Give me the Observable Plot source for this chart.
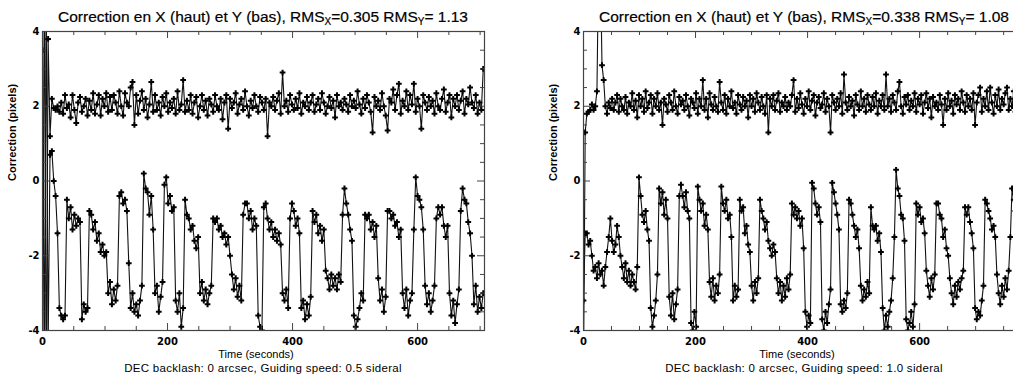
<!DOCTYPE html>
<html><head><meta charset="utf-8">
<script src="https://cdn.jsdelivr.net/npm/d3@7"></script>
<script src="https://cdn.jsdelivr.net/npm/@observablehq/plot@0.6"></script>
<style>
html,body{margin:0;padding:0;background:#fff;overflow:hidden;width:1013px;height:378px}
#wrap{position:relative;width:1100px;height:378px}
.panel{position:absolute;top:0;width:506px;height:378px}
.panel svg{position:absolute;left:0;top:0}
.title{position:absolute;top:8px;left:-20px;width:566px;text-align:center;font:15.5px "Liberation Sans",Arial,sans-serif;color:#000;white-space:nowrap;-webkit-text-stroke:0.2px #000}
.title sub{font-size:10px;vertical-align:-3px;line-height:0}
.xlab{position:absolute;top:348px;left:35px;width:442px;text-align:center;font:11px "Liberation Sans",Arial,sans-serif;color:#000;white-space:nowrap}
.cap{position:absolute;top:362px;left:-20px;width:566px;text-align:center;font:11.5px "Liberation Sans",Arial,sans-serif;letter-spacing:0.3px;color:#000;white-space:nowrap}
</style></head><body>
<div id="wrap"></div>
<script>
// sampling step of the guiding corrections (seconds)
const dt = 3;
const yDomain = [-4, 4];
const xMajorTicks = [0, 200, 400, 600];
const xMinorTicksLeft = [50,100,150,250,300,350,450,500,550,650,700];
const xMinorTicksRight = [50,100,150,250,300,350,450,500,550,650,700,750];
const yMajorTicks = [-4, -2, 0, 2, 4];
const yMinorTicks = [-3.5,-3,-2.5,-1.5,-1,-0.5,0.5,1,1.5,2.5,3,3.5];
const leftXMax = 707;
const rightXMax = 789;
const yLabel = "Correction (pixels)";

const leftTitle = {rmsX: "0.305", rmsY: " 1.13"};
const rightTitle = {rmsX: "0.338", rmsY: " 1.08"};
const leftCaption = "DEC backlash: 0 arcsec, Guiding speed: 0.5 sideral";
const rightCaption = "DEC backlash: 0 arcsec, Guiding speed: 1.0 sideral";

// Left panel, X correction (top series)
const leftX = [
-6,6,-6,3.8,1.2,2.2,1.95,1.9,2.0,1.85,
2.1,1.8,2.3,1.95,2.05,1.7,2.3,1.9,1.55,2.1,
2.25,1.85,2.0,2.2,1.75,2.15,1.9,2.35,1.8,2.05,
2.3,1.75,2.2,2.0,2.35,1.85,2.25,1.9,2.3,2.1,
1.8,2.4,2.0,1.75,2.35,2.1,2.0,2.5,2.65,1.5,
2.3,1.8,2.15,2.4,1.9,2.2,1.7,2.05,2.65,1.85,
2.3,1.9,2.1,1.75,2.25,2.0,2.35,1.85,2.1,1.95,
2.2,1.8,2.4,1.9,2.05,2.7,1.85,2.15,1.9,2.3,
1.8,2.1,2.25,1.7,2.0,2.3,1.9,2.15,1.75,2.2,
2.05,1.85,2.3,2.0,1.9,2.2,1.65,2.1,2.3,1.4,
2.2,1.95,2.1,2.35,1.8,2.05,2.2,1.9,2.4,2.0,
1.75,2.15,1.95,2.3,2.0,1.85,2.25,2.1,1.9,2.2,
1.2,2.1,2.0,2.25,1.9,2.15,2.35,1.8,2.9,2.0,
2.15,1.85,2.3,2.05,1.9,2.2,1.95,2.35,1.8,2.1,
2.0,2.25,1.9,2.1,2.3,1.85,2.05,2.2,1.9,2.35,
2.1,1.8,2.0,2.25,1.95,2.15,1.7,2.3,2.0,2.1,
1.9,2.2,2.05,1.85,2.3,2.0,2.15,1.95,2.4,2.05,
1.8,2.2,1.95,2.3,2.1,1.85,1.3,2.25,2.0,2.15,
1.9,2.35,2.0,1.75,1.35,2.2,2.1,2.45,1.9,2.3,
2.6,1.8,2.15,2.0,2.4,1.9,2.3,2.05,2.6,1.85,
2.2,2.0,1.4,2.3,2.1,1.9,2.25,2.0,2.15,1.8,
2.35,2.0,1.9,2.2,2.45,1.85,2.1,2.3,1.7,2.2,
2.0,2.3,1.9,2.15,2.4,1.8,2.2,2.05,2.5,2.1,
1.95,2.3,1.8,2.1,1.9,3.0
];

// Left panel, Y correction (bottom series)
const leftY = [
3.5,-5,5,-4.5,0.7,0.8,0.0,-0.4,-1.4,-3.4,-3.6,-3.7,-3.6,
-0.5,-1.0,-0.7,-1.3,-0.9,-1.2,-1.0,-1.1,-3.7,-3.3,-3.5,-3.4,
-0.8,-0.9,-1.3,-1.1,-1.6,-1.4,-1.9,-1.7,-2.0,-1.9,-3.0,-2.7,-3.3,-2.9,-3.2,-2.8,
-0.4,-0.3,-0.6,-0.5,-0.8,-2.2,-3.4,-3.0,-3.5,-3.3,-3.6,-3.2,-2.8,
0.2,-0.2,-0.3,-0.9,-0.4,-1.3,-3.0,-2.8,-3.5,-3.1,-2.7,
-0.1,0.1,-0.6,-0.4,-0.8,-0.7,-3.2,-3.5,-3.0,-3.9,-3.4,
-0.5,-0.9,-1.0,-1.3,-1.2,-1.6,-1.8,-1.5,-3.0,-2.7,-3.2,-2.9,-3.3,-3.0,-2.8,
-1.0,-1.1,-1.0,-1.3,-1.2,-1.5,-1.4,-1.7,-1.5,-2.0,-2.5,-2.9,-2.6,-3.1,-2.8,-3.2,
-0.9,-0.6,-0.6,-1.0,-0.8,-1.3,-1.0,-1.2,-3.6,-3.9,-4.0,
-0.7,-0.6,-1.0,-1.3,-1.1,-1.5,-1.3,-1.6,-1.4,-1.7,-3.0,-3.2,-2.9,-3.4,
-1.0,-0.6,-0.8,-1.2,-1.0,-1.4,-3.4,-3.2,-3.7,-3.3,-3.6,-3.1,
-0.8,-1.1,-0.9,-1.4,-1.2,-1.6,-1.3,-2.4,-2.6,-2.9,-2.5,-2.8,-2.6,-2.9,-2.5,-2.7,
-0.9,-0.2,-0.6,-0.9,-1.3,-1.6,-3.6,-3.9,-3.7,-3.4,-3.0,-3.2,
-0.9,-1.0,-0.9,-1.3,-1.1,-1.5,-1.2,-2.6,-3.2,-2.9,-3.5,-3.1,
-0.8,-0.8,-1.0,-0.9,-1.2,-1.1,-1.5,-1.3,-3.0,-3.4,-2.9,-3.6,-3.2,-3.0,
-1.3,0.1,-0.4,-0.5,-0.7,-1.3,-2.8,-3.3,-3.0,-3.5,-3.2,-2.8,
-1.0,-0.7,-0.9,-0.7,-1.2,-1.5,-1.2,-3.0,-3.6,-3.2,-3.8,-3.3,-2.9,
-0.8,-0.2,-0.5,-0.6,-1.1,-1.4,-2.0,-3.3,-2.8,-3.5,-3.1,-3.4,-3.0
];

// Right panel, X correction (top series)
const rightX = [
-5,1.3,1.8,1.85,1.9,2.05,1.9,2.0,2.4,6,
6,3.1,2.7,2.0,1.8,2.1,1.95,2.2,1.9,2.1,
2.3,1.85,2.2,2.0,1.9,2.25,1.8,2.1,2.0,2.35,
1.9,2.15,1.7,2.3,2.0,2.2,1.85,2.4,1.95,2.1,
2.3,1.8,2.2,2.0,2.35,1.9,2.1,1.5,2.2,2.05,
1.85,2.3,2.1,1.9,2.4,2.0,1.8,2.25,2.05,2.15,
1.9,2.3,2.0,1.75,2.2,2.1,1.95,2.35,1.8,2.2,
2.0,2.7,1.9,2.2,1.7,2.35,2.05,1.9,2.25,2.0,
1.85,2.65,2.1,1.9,2.3,1.8,2.2,2.0,2.4,1.95,
2.1,1.8,2.3,2.05,1.9,2.25,2.0,2.15,1.7,2.3,
2.0,2.2,1.85,2.35,2.1,1.9,2.25,2.0,1.8,2.3,
1.3,2.2,2.0,2.3,1.9,2.15,2.35,1.85,2.1,2.0,
2.25,1.9,2.1,2.0,2.3,2.7,1.85,2.2,1.95,2.35,
2.05,1.8,2.2,2.0,2.4,1.9,2.15,2.3,1.75,2.1,
2.25,1.95,2.05,2.35,1.85,2.2,2.0,1.3,2.3,2.1,
1.9,2.2,2.0,2.35,1.8,2.85,2.1,1.9,2.25,2.0,
2.15,1.75,2.3,2.05,1.9,2.4,2.0,2.2,1.85,2.3,
2.05,1.9,2.25,2.0,2.35,1.8,2.15,2.0,2.3,1.9,
2.85,2.0,2.2,1.85,2.3,2.1,1.9,2.4,2.65,2.0,
1.8,2.25,2.05,2.3,1.9,2.15,2.0,2.35,1.85,2.2,
2.05,2.3,1.8,2.1,2.35,1.95,2.2,1.7,2.25,2.0,
2.1,1.9,2.3,2.05,1.5,2.2,1.9,2.35,2.0,2.15,
1.8,2.3,2.05,2.2,1.9,2.4,2.1,1.85,2.3,2.0,
2.2,1.9,2.35,1.5,2.1,2.3,2.5,1.85,2.2,2.0,
2.4,1.9,2.5,2.1,1.8,2.3,2.0,2.45,1.9,2.2,
2.05,2.35,2.5,1.9,2.2,2.0,2.4,1.85,2.3,2.1,
1.9,2.3,2.0,2.2
];

// Right panel, Y correction (bottom series)
const rightY = [
-3.2,-1.4,-1.4,-1.7,-1.6,-2.0,-2.4,-2.3,-2.6,-2.2,-2.5,-2.4,-2.8,-2.3,-1.9,-1.5,-1.0,-1.6,-1.9,-1.7,-1.2,-1.5,-2.0,-2.3,-2.6,-2.2,-2.7,-2.4,-2.8,-2.5,-2.7,-2.9,-2.3,
0.1,-0.4,-0.9,-1.1,-0.8,-1.3,-1.6,-3.4,-3.9,-3.6,-3.2,-2.5,
-0.2,-0.6,-0.3,-0.9,-0.5,-1.0,-3.1,-3.6,-3.0,-3.7,-3.3,-2.9,
-0.4,-0.1,-0.4,-0.7,-0.3,-0.8,-1.0,-3.8,-4.0,-3.5,-3.9,
-0.15,-0.5,-0.8,-0.6,-1.2,-0.9,-1.3,-2.7,-3.1,-2.6,-3.2,-2.8,-3.0,-2.5,
-0.15,-0.6,-0.8,-0.5,-1.0,-0.9,-1.5,-3.2,-2.8,-3.1,-2.9,
-0.5,-0.8,-0.7,-1.4,-1.2,-1.7,-1.9,-2.8,-3.2,-2.7,-3.0,-2.6,
-0.5,-0.8,-1.0,-1.3,-1.1,-1.6,-1.8,-2.0,-1.7,-1.9,-2.6,-3.0,-2.7,-3.2,-2.8,-3.1,-2.6,-2.9,-2.5,
-0.6,-0.9,-0.7,-1.0,-0.8,-1.2,-1.0,-1.8,-3.5,-3.9,-3.6,-3.8,
-0.05,-0.2,-0.6,-0.9,-0.7,-1.1,-3.7,-4.0,-3.5,-3.8,-3.3,-2.9,
-0.05,-0.3,-0.6,-0.9,-1.3,-3.3,-3.5,-3.2,-3.4,-3.0,
-0.5,-0.6,-0.9,-1.2,-1.5,-1.3,-1.8,-2.8,-3.2,-2.9,-3.1,-2.7,-3.0,
-0.7,-1.2,-1.3,-1.2,-1.6,-1.4,-1.9,-3.4,-4.0,-3.6,-3.9,-3.5,-3.2,-2.6,
-1.5,0.3,-0.2,-0.4,-0.9,-1.0,-1.6,-3.7,-4.0,-3.8,-3.5,-3.9,-3.3,
-0.6,-0.9,-0.7,-1.1,-1.0,-1.4,-2.4,-2.8,-3.1,-2.6,-2.9,-2.5,
-0.6,-0.6,-0.9,-1.0,-1.5,-1.3,-1.8,-2.0,-2.6,-3.0,-3.3,-2.8,-3.1,-2.7,-2.9,-2.6,-2.4,
-0.7,-0.9,-0.7,-1.1,-1.4,-1.8,-3.4,-3.7,-3.5,-3.6,-3.2,-2.8,
-0.5,-0.6,-0.8,-1.0,-1.3,-1.2,-1.5,-2.5,-3.0,-3.3,-2.8,-3.1,-2.6,-2.9,-2.4,-1.5,
-0.2,-0.5,-0.8,-0.6,-1.0,-1.3,-2.2,-3.0,-2.7
];

function series(vals) { return vals.map((v, i) => ({t: i * dt, v})); }

function makePanel(xVals, yVals, xMax, xMinor) {
  const W = 506, H = 378, mL = 42, mR = 22, mT = 31, mB = 48;
  const pw = W - mL - mR, ph = H - mT - mB;
  const sx = series(xVals), sy = series(yVals);
  const ink = "#111", axisInk = "#444";
  const dotOpts = {x: "t", y: "v", symbol: "plus", r: 2, stroke: "#000", strokeWidth: 2, clip: true};
  return Plot.plot({
    width: W, height: H,
    marginLeft: mL, marginRight: mR, marginTop: mT, marginBottom: mB,
    x: {domain: [0, xMax]},
    y: {domain: yDomain},
    style: {fontFamily: '"DejaVu Sans", sans-serif', fontSize: "10px", fontWeight: "bold", color: "#000", background: "transparent"},
    marks: [
      Plot.line(sy, {x: "t", y: "v", stroke: ink, strokeWidth: 1.1, clip: true}),
      Plot.dot(sy, dotOpts),
      Plot.line(sx, {x: "t", y: "v", stroke: ink, strokeWidth: 1.1, clip: true}),
      Plot.dot(sx, dotOpts),
      Plot.frame({stroke: axisInk, strokeWidth: 1.2}),
      Plot.tickX(xMajorTicks, {x: d => d, insetTop: ph - 7, stroke: axisInk}),
      Plot.tickX(xMinor, {x: d => d, insetTop: ph - 4, stroke: axisInk}),
      Plot.tickX(xMajorTicks, {x: d => d, insetBottom: ph - 7, stroke: axisInk}),
      Plot.tickX(xMinor, {x: d => d, insetBottom: ph - 4, stroke: axisInk}),
      Plot.tickY(yMajorTicks, {y: d => d, insetRight: pw - 7, stroke: axisInk}),
      Plot.tickY(yMinorTicks, {y: d => d, insetRight: pw - 4, stroke: axisInk}),
      Plot.tickY(yMajorTicks, {y: d => d, insetLeft: pw - 7, stroke: axisInk}),
      Plot.tickY(yMinorTicks, {y: d => d, insetLeft: pw - 4, stroke: axisInk}),
      Plot.axisX(xMajorTicks, {tickSize: 0, tickPadding: 7, label: null, tickFormat: d => String(d)}),
      Plot.axisY(yMajorTicks, {tickSize: 0, tickPadding: 3, label: null, tickFormat: d => String(d)}),
      Plot.text([yLabel], {frameAnchor: "left", rotate: -90, dx: -30, text: d => d, fontSize: 11, fontWeight: "bold", fontFamily: '"Liberation Sans", Arial, sans-serif', fill: "#000"})
    ]
  });
}

function titleHTML(t) {
  return `Correction en X (haut) et Y (bas), RMS<sub>X</sub>=${t.rmsX} RMS<sub>Y</sub>=${t.rmsY}`;
}

const wrap = document.getElementById("wrap");
function addPanel(left, xVals, yVals, xMax, xMinor, t, caption) {
  const p = document.createElement("div");
  p.className = "panel";
  p.style.left = left + "px";
  p.appendChild(makePanel(xVals, yVals, xMax, xMinor));
  const ti = document.createElement("div"); ti.className = "title"; ti.innerHTML = titleHTML(t); p.appendChild(ti);
  const xl = document.createElement("div"); xl.className = "xlab"; xl.textContent = "Time (seconds)"; p.appendChild(xl);
  const c = document.createElement("div"); c.className = "cap"; c.textContent = caption; p.appendChild(c);
  wrap.appendChild(p);
}
addPanel(0, leftX, leftY, leftXMax, xMinorTicksLeft, leftTitle, leftCaption);
addPanel(541, rightX, rightY, rightXMax, xMinorTicksRight, rightTitle, rightCaption);
</script>
</body></html>
